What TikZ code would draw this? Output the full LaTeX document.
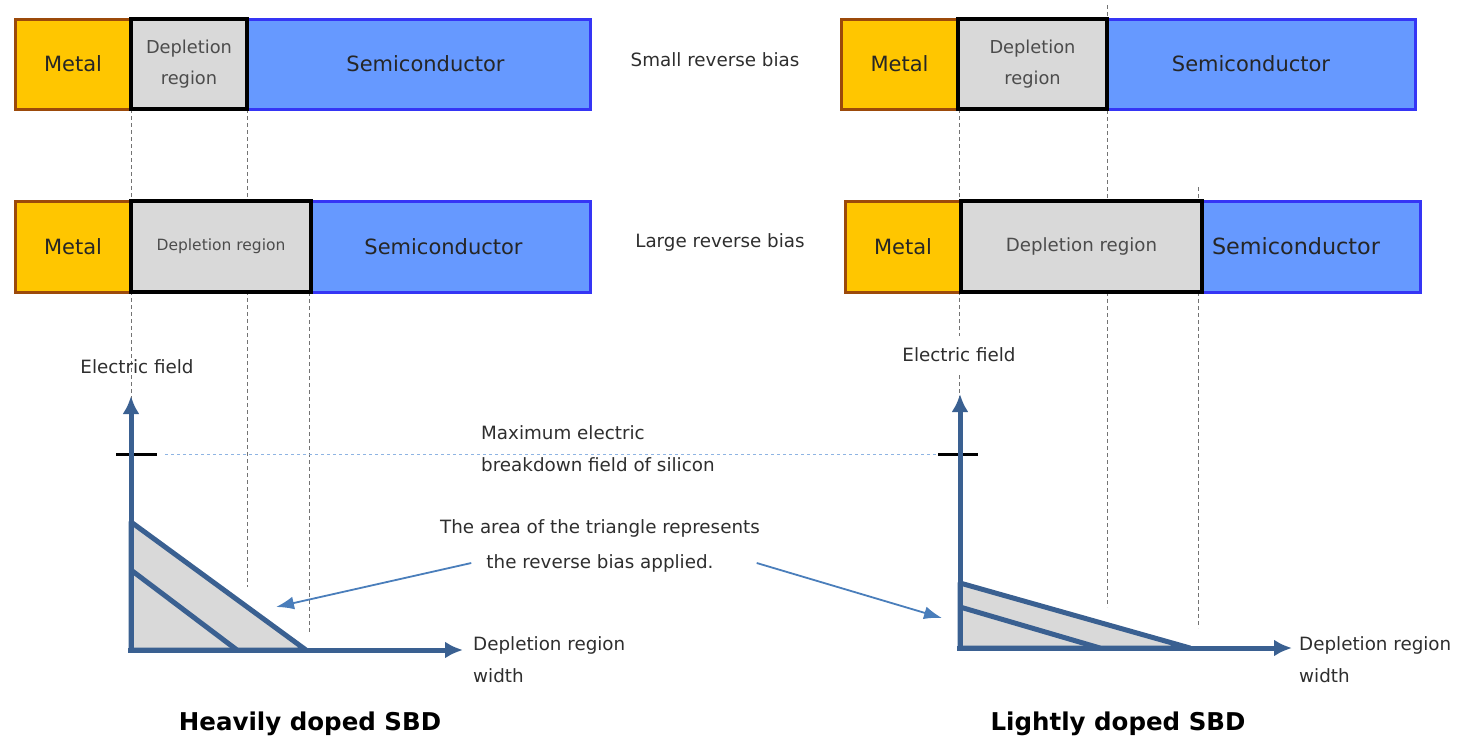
\documentclass[tikz,border=0pt]{standalone}
\usepackage{fontspec}
\setmainfont{DejaVu Sans}
\usetikzlibrary{arrows.meta}
\definecolor{metalfill}{HTML}{FFC600}
\definecolor{metalline}{HTML}{9C4A0A}
\definecolor{semifill}{HTML}{6699FF}
\definecolor{semiline}{HTML}{3535F5}
\definecolor{deplfill}{HTML}{D9D9D9}
\definecolor{axisblue}{HTML}{3A6091}
\definecolor{pointblue}{HTML}{4A7EBB}
\definecolor{guideblue}{HTML}{8EB4E3}

\begin{document}
\begin{tikzpicture}[x=1pt, y=-1pt, >={Latex[length=18pt,width=17pt]},
  layer/.style={draw, rectangle, inner sep=0pt, line width=3pt, text=black!85, font=\fontsize{21}{25}\selectfont},
  metal/.style={layer, fill=metalfill, draw=metalline},
  semi/.style={layer, fill=semifill, draw=semiline},
  depl/.style={layer, fill=deplfill, draw=black, line width=4pt, text=black!70, align=center},
  guide/.style={black!55, dash pattern=on 4pt off 3pt, line width=1pt},
  axis/.style={axisblue, line width=5pt},
  tri/.style={fill=deplfill, draw=axisblue, line width=5pt, line join=round},
  note/.style={text=black!82, font=\fontsize{18.3}{32}\selectfont, inner sep=1pt, align=left},
  title/.style={text=black, font=\fontsize{24.5}{28}\selectfont\bfseries}]
\useasboundingbox (0,0) rectangle (1458,739);

% guide lines
\draw[guide] (131,109) -- (131,400);
\draw[guide] (247,109) -- (247,587);
\draw[guide] (309,292) -- (309,632);
\draw[guide] (959,109) -- (959,400);
\draw[guide] (1107,5) -- (1107,607);
\draw[guide] (1198,187) -- (1198,628);

% heavily doped, small bias
\node[semi, minimum width=343pt, minimum height=90pt] (s1) at (418.5,64) {\hspace*{14pt}Semiconductor};
\node[metal, minimum width=116pt, minimum height=90pt] (m1) at (73,64) {Metal};
\node[depl, minimum width=116pt, minimum height=90pt, font=\fontsize{17.8}{31}\selectfont] (d1) at (189,64) {Depletion\\region};
% heavily doped, large bias
\node[semi, minimum width=279pt, minimum height=91pt] (s2) at (450.5,246.5) {Semiconductor\hspace*{14pt}};
\node[metal, minimum width=116pt, minimum height=91pt] (m2) at (73,246.5) {Metal};
\node[depl, minimum width=180pt, minimum height=91pt, font=\fontsize{15.5}{18}\selectfont] (d2) at (221,246.5) {Depletion region};
% lightly doped, small bias
\node[semi, minimum width=308pt, minimum height=90pt] (s3) at (1261,64) {Semiconductor\hspace*{20pt}};
\node[metal, minimum width=117pt, minimum height=90pt] (m3) at (899.5,64) {Metal};
\node[depl, minimum width=149pt, minimum height=90pt, font=\fontsize{17.8}{31}\selectfont] (d3) at (1032.5,64) {Depletion\\region};
% lightly doped, large bias
\node[semi, minimum width=218pt, minimum height=91pt, font=\fontsize{22.3}{26}\selectfont] (s4) at (1311,246.5) {Semiconductor\hspace*{30pt}};
\node[metal, minimum width=116pt, minimum height=91pt] (m4) at (903,246.5) {Metal};
\node[depl, minimum width=241pt, minimum height=91pt, font=\fontsize{18.2}{21}\selectfont] (d4) at (1081.5,246.5) {Depletion region};

\node[note] (small) at (715,60) {Small reverse bias};
\node[note] (large) at (720,242) {Large reverse bias};

% breakdown field
\draw[guideblue, dashed, line width=1pt] (165,454) -- (938,454);
\draw[black, line width=3pt] (116,454) -- (157,454);
\draw[black, line width=3pt] (938,454) -- (978,454);
\node[note, anchor=west] (maxE) at (480,449) {Maximum electric\\breakdown field of silicon};

% heavily doped field
\filldraw[tri] (131,522) -- (306,650) -- (131,650) -- cycle;
\draw[tri] (131,570) -- (237,650);
\coordinate (o1) at (131,652);
\coordinate (y1) at (131,396);
\coordinate (x0) at (128,650);
\coordinate (x1) at (463,650);
\draw[axis,->] (o1) -- (y1);
\draw[axis,->] (x0) -- (x1);
\node[note] (efl) at (137,367) {Electric field};
\node[note, anchor=west] (wl) at (472,660) {Depletion region\\width};

% lightly doped field
\filldraw[tri] (960,583) -- (1190,648) -- (960,648) -- cycle;
\draw[tri] (960,607) -- (1100,648);
\coordinate (o2) at (960,650);
\coordinate (y2) at (960,394);
\coordinate (x2) at (957,648);
\coordinate (x3) at (1292,648);
\draw[axis,->] (o2) -- (y2);
\draw[axis,->] (x2) -- (x3);
\node[note, fill=white, inner ysep=12pt] (efr) at (959,355) {Electric field};
\node[note, anchor=west] (wr) at (1298,660) {Depletion region\\width};

% triangle area
\node[note] (area) at (600,528) {The area of the triangle represents};
\node[note] (bias) at (600,563) {the reverse bias applied.};
\coordinate (tl) at (276,607);
\coordinate (tr) at (942,618);
\draw[pointblue, line width=1.8pt, -{Latex[length=18pt,width=13pt]}] (bias.west) ++(-14,0) -- (tl);
\draw[pointblue, line width=1.8pt, -{Latex[length=18pt,width=13pt]}] (bias.east) ++(42,0) -- (tr);

\node[title] (heavy) at (310,724) {Heavily doped SBD};
\node[title] (light) at (1118,724) {Lightly doped SBD};
\end{tikzpicture}
\end{document}
